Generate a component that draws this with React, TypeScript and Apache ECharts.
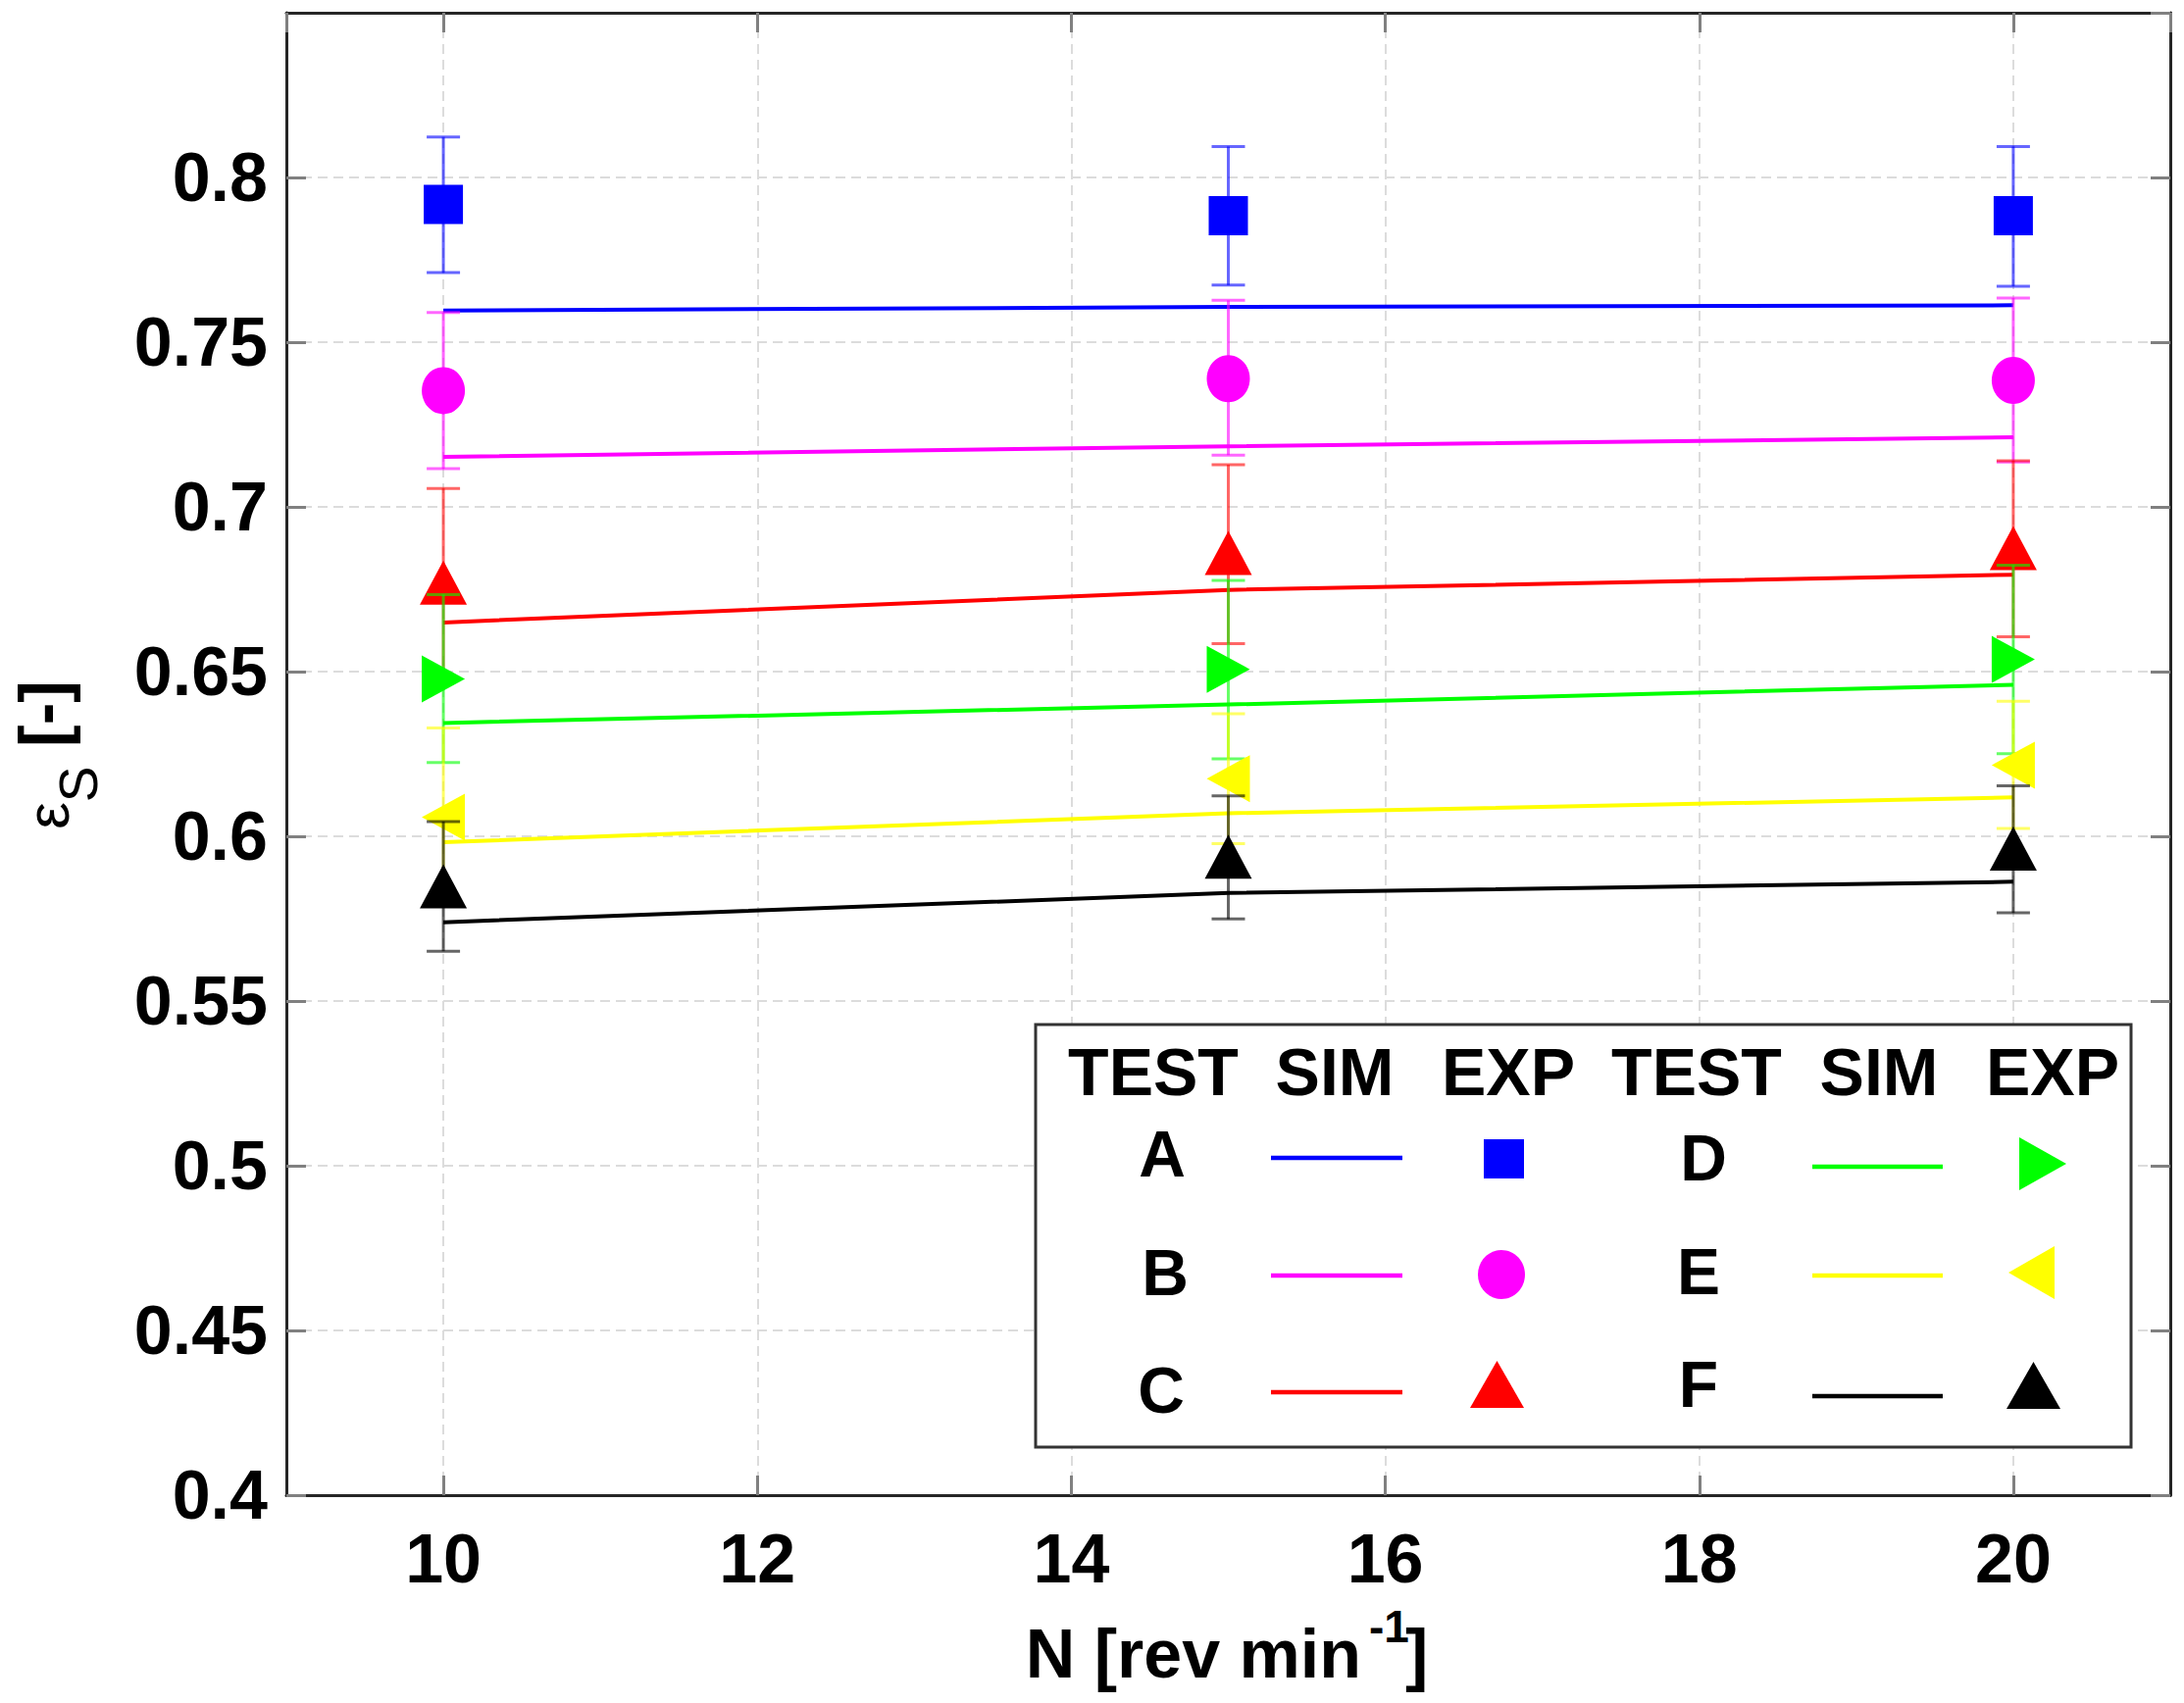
import React, { useEffect, useRef } from "react";
import * as echarts from "echarts";

const FONT = "'Liberation Sans', Arial, Helvetica, sans-serif";

const N = [10, 15, 20];
const tests = ["A", "B", "C", "D", "E", "F"];
const colors = ["#0000ff", "#ff00ff", "#ff0000", "#00ff00", "#ffff00", "#000000"];

// SIM lines
const simA = [0.7596, 0.7607, 0.7612];
const simB = [0.7152, 0.7184, 0.7211];
const simC = [0.6649, 0.6748, 0.6794];
const simD = [0.6344, 0.6400, 0.6460];
const simE = [0.5982, 0.6070, 0.6118];
const simF = [0.5739, 0.5828, 0.5862];

// EXP means
const expA = [0.7918, 0.7884, 0.7884];
const expB = [0.7353, 0.7389, 0.7384];
const expC = [0.6770, 0.6860, 0.6875];
const expD = [0.6478, 0.6507, 0.6537];
const expE = [0.6058, 0.6175, 0.6216];
const expF = [0.5848, 0.5938, 0.5963];

// EXP error bar limits
const loA = [0.7711, 0.7673, 0.7670];
const hiA = [0.8123, 0.8094, 0.8094];
const loB = [0.7116, 0.7157, 0.7136];
const hiB = [0.7590, 0.7627, 0.7634];
const loC = [0.6480, 0.6585, 0.6606];
const hiC = [0.7056, 0.7128, 0.7140];
const loD = [0.6224, 0.6235, 0.6251];
const hiD = [0.6734, 0.6777, 0.6823];
const loE = [0.5787, 0.5978, 0.6024];
const hiE = [0.6329, 0.6372, 0.6410];
const loF = [0.5651, 0.5749, 0.5768];
const hiF = [0.6045, 0.6123, 0.6153];

const sims = [simA, simB, simC, simD, simE, simF];
const exps = [expA, expB, expC, expD, expE, expF];
const los = [loA, loB, loC, loD, loE, loF];
const his = [hiA, hiB, hiC, hiD, hiE, hiF];

const symbols = ["rect", "circle", "triangle", "triangle", "triangle", "triangle"];
const symbolSizes: any[] = [40, [44, 48], [48, 45], [48, 44], [48, 44], [48, 45]];
const symbolRotates = [0, 0, 0, -90, 90, 0];

export default function App() {
  const ref = useRef<HTMLDivElement>(null);
  useEffect(() => {
    if (!ref.current) return;
    const chart = echarts.init(ref.current, undefined, { renderer: "svg" });

    const series: any[] = [];
    tests.forEach((t, i) => {
      series.push({
        name: "SIM " + t,
        type: "line",
        data: N.map((n, k) => [n, sims[i][k]]),
        showSymbol: false,
        symbol: "none",
        lineStyle: { color: colors[i], width: 4 },
        z: 2,
        silent: true,
      });
    });
    tests.forEach((t, i) => {
      const col = colors[i];
      series.push({
        name: "ERR " + t,
        type: "custom",
        data: N.map((n, k) => [n, los[i][k], his[i][k]]),
        encode: { x: 0, y: [1, 2] },
        z: 3 + i * 2,
        silent: true,
        renderItem: (params: any, api: any) => {
          const x = api.value(0);
          const pLo = api.coord([x, api.value(1)]);
          const pHi = api.coord([x, api.value(2)]);
          const hw = 17;
          const style = { stroke: col, lineWidth: 3, opacity: 0.6 };
          return {
            type: "group",
            children: [
              { type: "line", shape: { x1: pHi[0], y1: pHi[1], x2: pLo[0], y2: pLo[1] }, style },
              { type: "line", shape: { x1: pHi[0] - hw, y1: pHi[1], x2: pHi[0] + hw, y2: pHi[1] }, style },
              { type: "line", shape: { x1: pLo[0] - hw, y1: pLo[1], x2: pLo[0] + hw, y2: pLo[1] }, style },
            ],
          };
        },
      });
      series.push({
        name: "EXP " + t,
        type: "scatter",
        data: N.map((n, k) => [n, exps[i][k]]),
        symbol: symbols[i],
        symbolSize: symbolSizes[i],
        symbolRotate: symbolRotates[i],
        itemStyle: { color: col, opacity: 1 },
        z: 4 + i * 2,
        silent: true,
      });
    });

    const gridLine = { show: true, lineStyle: { color: "#dcdcdc", width: 2, type: [10, 6] } };
    const axisLineStyle = { show: true, lineStyle: { color: "#262626", width: 3 } };
    const tick = { show: true, inside: true, length: 20, lineStyle: { color: "#808080", width: 3 } };
    const labelStyle = { fontFamily: FONT, fontSize: 70, fontWeight: "bold", color: "#000" };

    const T = (text: string, x: number, y: number, size: number, weight = "bold", align = "center") => ({
      type: "text",
      z: 101,
      style: {
        text,
        x,
        y,
        font: `${weight} ${size}px ${FONT}`,
        fill: "#000",
        textAlign: align,
        textVerticalAlign: "middle",
      },
    });
    const L = (x1: number, x2: number, y: number, color: string) => ({
      type: "line",
      z: 101,
      shape: { x1, y1: y, x2, y2: y },
      style: { stroke: color, lineWidth: 4.5 },
    });

    const legend: any[] = [
      {
        type: "rect",
        z: 100,
        shape: { x: 1056, y: 1045, width: 1117, height: 431 },
        style: { fill: "#ffffff", stroke: "#333333", lineWidth: 3 },
      },
      T("TEST", 1176, 1093, 68),
      T("SIM", 1361, 1093, 68),
      T("EXP", 1538, 1093, 68),
      T("TEST", 1730, 1093, 68),
      T("SIM", 1916, 1093, 68),
      T("EXP", 2093, 1093, 68),
      T("A", 1185, 1177, 66),
      T("B", 1188, 1298, 66),
      T("C", 1184, 1418, 66),
      T("D", 1737, 1181, 66),
      T("E", 1732, 1297, 66),
      T("F", 1732, 1412, 66),
      L(1296, 1430, 1181, colors[0]),
      L(1296, 1430, 1301, colors[1]),
      L(1296, 1430, 1420, colors[2]),
      L(1848, 1981, 1190, colors[3]),
      L(1848, 1981, 1301, colors[4]),
      L(1848, 1981, 1424, colors[5]),
      { type: "rect", z: 101, shape: { x: 1513, y: 1162, width: 41, height: 40 }, style: { fill: colors[0] } },
      { type: "ellipse", z: 101, shape: { cx: 1531, cy: 1300, rx: 24, ry: 25 }, style: { fill: colors[1] } },
      { type: "polygon", z: 101, shape: { points: [[1526.5, 1388], [1554, 1436], [1499, 1436]] }, style: { fill: colors[2] } },
      { type: "polygon", z: 101, shape: { points: [[2059, 1160], [2107, 1187], [2059, 1214]] }, style: { fill: colors[3] } },
      { type: "polygon", z: 101, shape: { points: [[2095, 1271], [2048, 1298], [2095, 1325]] }, style: { fill: colors[4] } },
      { type: "polygon", z: 101, shape: { points: [[2073.5, 1389], [2101, 1437], [2046, 1437]] }, style: { fill: colors[5] } },
    ];

    const axisNames: any[] = [
      T("N [rev min", 1388, 1687, 70, "bold", "right"),
      T("-1", 1396, 1659, 46, "bold", "left"),
      T("]", 1433, 1687, 70, "bold", "left"),
      {
        type: "group",
        x: 70,
        y: 772,
        rotation: Math.PI / 2,
        z: 101,
        children: [
          T("\u03b5", -60, -22, 62, "normal"),
          T("S", -28, 10, 55, "normal"),
          T("[-]", 44, -26, 68, "bold"),
        ],
      },
    ];

    chart.setOption({
      animation: false,
      backgroundColor: "#ffffff",
      grid: { left: 292, top: 13, width: 1921, height: 1512, containLabel: false },
      xAxis: [
        {
          type: "value",
          position: "bottom",
          min: 9,
          max: 21,
          splitNumber: 6,
          axisLine: axisLineStyle,
          axisTick: tick,
          axisLabel: { ...labelStyle, margin: 30, showMinLabel: false, showMaxLabel: false },
          splitLine: gridLine,
        },
        {
          type: "value",
          position: "top",
          min: 9,
          max: 21,
          splitNumber: 6,
          axisLine: axisLineStyle,
          axisTick: tick,
          axisLabel: { show: false },
          splitLine: { show: false },
        },
      ],
      yAxis: [
        {
          type: "value",
          position: "left",
          min: 0.4,
          max: 0.85,
          interval: 0.05,
          axisLine: axisLineStyle,
          axisTick: tick,
          axisLabel: { ...labelStyle, margin: 19, showMaxLabel: false },
          splitLine: gridLine,
        },
        {
          type: "value",
          position: "right",
          min: 0.4,
          max: 0.85,
          interval: 0.05,
          axisLine: axisLineStyle,
          axisTick: tick,
          axisLabel: { show: false },
          splitLine: { show: false },
        },
      ],
      series,
      graphic: { elements: [...legend, ...axisNames] },
    });
    return () => chart.dispose();
  }, []);
  return (
    <div
      ref={ref}
      style={{ position: "absolute", left: 0, top: 0, width: 2227, height: 1737, background: "#fff" }}
    />
  );
}
